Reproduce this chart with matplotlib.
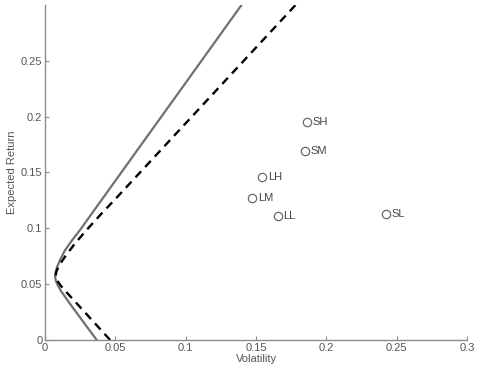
import matplotlib
matplotlib.use("Agg")
import matplotlib.pyplot as plt

# Frontier curves (volatility, expected return)
solid_vol = [0.0367, 0.0296, 0.0226, 0.0179, 0.0140, 0.0112, 0.0090, 0.0076, 0.0071,
             0.0075, 0.0087, 0.0108, 0.0140, 0.0190, 0.0249, 0.0334, 0.0445, 0.0673,
             0.0981, 0.1393, 0.1400]
solid_ret = [0.000, 0.012, 0.024, 0.032, 0.039, 0.044, 0.049, 0.053, 0.057,
             0.061, 0.066, 0.072, 0.080, 0.089, 0.0986, 0.1135, 0.1330, 0.1730,
             0.2270, 0.2993, 0.301]

dash_vol = [0.0462, 0.0375, 0.0289, 0.0201, 0.0143, 0.0115, 0.0092, 0.0078, 0.0074,
            0.0080, 0.0096, 0.0142, 0.0210, 0.0296, 0.0400, 0.0516, 0.0793, 0.1206,
            0.1501, 0.1772, 0.1780]
dash_ret = [0.000, 0.012, 0.0239, 0.036, 0.044, 0.048, 0.052, 0.055, 0.057,
            0.061, 0.066, 0.0747, 0.086, 0.0986, 0.1130, 0.1284, 0.166, 0.222,
            0.262, 0.2987, 0.300]

# Portfolios
labels = ["SH", "SM", "LH", "LM", "LL", "SL"]
port_vol = [0.1865, 0.1848, 0.1545, 0.1474, 0.1654, 0.2424]
port_ret = [0.1953, 0.1690, 0.1463, 0.1272, 0.1108, 0.1126]

plt.rcParams['font.family'] = ['Liberation Sans', 'DejaVu Sans']
axis_col = "#8c8c8c"
text_col = "#555555"

fig = plt.figure(figsize=(4.8, 3.74), dpi=100)
ax = fig.add_axes([0.094, 0.091, 0.879, 0.896])

ax.plot(solid_vol, solid_ret, color="#707070", lw=1.6, solid_joinstyle="round")
ax.plot(dash_vol, dash_ret, color="black", lw=1.7, dashes=(3.5, 2.5))

ax.plot(port_vol, port_ret, "o", ms=6, mfc="white", mec="#6a6a6a", mew=0.9, ls="none")
for lab, x, y in zip(labels, port_vol, port_ret):
    ax.annotate(lab, (x, y), xytext=(4, 0), textcoords="offset points",
                va="center", ha="left", fontsize=8, color="#444444")

ax.set_xlim(0, 0.3)
ax.set_ylim(0, 0.3)
ax.set_xticks([0, 0.05, 0.1, 0.15, 0.2, 0.25, 0.3])
ax.set_xticklabels(["0", "0.05", "0.1", "0.15", "0.2", "0.25", "0.3"])
ax.set_yticks([0, 0.05, 0.1, 0.15, 0.2, 0.25])
ax.set_yticklabels(["0", "0.05", "0.1", "0.15", "0.2", "0.25"])

for side in ["top", "right"]:
    ax.spines[side].set_visible(False)
for side in ["left", "bottom"]:
    ax.spines[side].set_color(axis_col)
    ax.spines[side].set_linewidth(1.0)
ax.tick_params(direction="in", length=3, color=axis_col, labelcolor=text_col,
               labelsize=8, pad=2)

ax.set_xlabel("Volatility", fontsize=8, color=text_col, labelpad=1)
ax.set_ylabel("Expected Return", fontsize=8, color=text_col, labelpad=3)

fig.savefig("out.png", dpi=100)
